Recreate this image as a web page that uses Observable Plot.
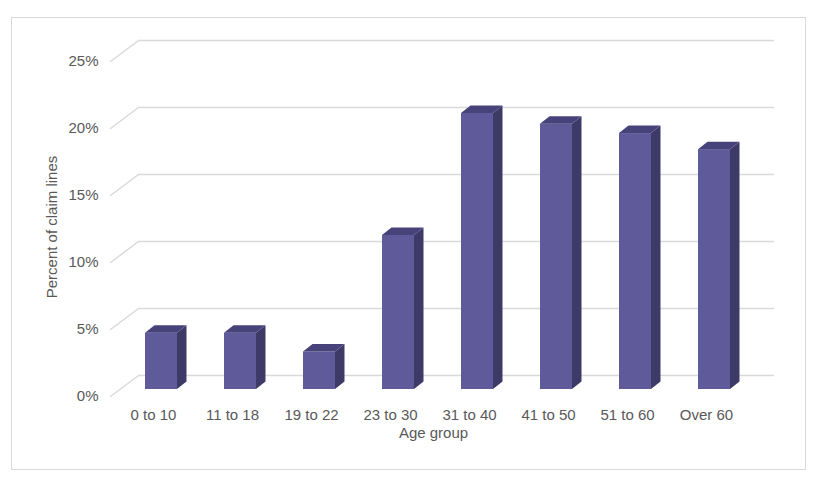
<!DOCTYPE html>
<html>
<head>
<meta charset="utf-8">
<script src="https://cdn.jsdelivr.net/npm/d3@7"></script>
<script src="https://cdn.jsdelivr.net/npm/@observablehq/plot@0.6"></script>
<style>
  body { margin: 0; background: #fff; }
  #wrap { position: relative; width: 818px; height: 477px; overflow: hidden; }
  #border { position: absolute; left: 11px; top: 17px; width: 793px; height: 451px; border: 1px solid #d9d9d9; box-sizing: content-box; }
  #chart { position: absolute; left: 0; top: 0; }
</style>
</head>
<body>
<div id="wrap"><div id="border"></div><div id="chart"></div></div>
<script>
const categories = ["0 to 10", "11 to 18", "19 to 22", "23 to 30", "31 to 40", "41 to 50", "51 to 60", "Over 60"];
const values = [4.2, 4.2, 2.8, 11.5, 20.6, 19.8, 19.1, 17.9];
const yTicks = [0, 5, 10, 15, 20, 25];
const xTitle = "Age group";
const yTitle = "Percent of claim lines";

const rows = categories.map((c, i) => ({category: c, value: values[i]}));

const frontColor = "#5f5b9a";
const sideColor = "#3e3a68";
const topColor = "#47437a";
const gridColor = "#d9d9d9";
const textColor = "#595959";
const depthX = 9.5, depthY = 7.5;

function extrude(index, scales, vals, dimensions, context, next) {
  const g = next(index, scales, vals, dimensions, context);
  const ns = "http://www.w3.org/2000/svg";
  const rects = Array.from(g.querySelectorAll("rect"));
  for (const r of rects) {
    const X = +r.getAttribute("x"), Y = +r.getAttribute("y");
    const W = +r.getAttribute("width"), H = +r.getAttribute("height");
    const side = document.createElementNS(ns, "polygon");
    side.setAttribute("points", [
      [X + W, Y + H], [X + W, Y], [X + W + depthX, Y - depthY], [X + W + depthX, Y + H - depthY]
    ].map(p => p.join(",")).join(" "));
    side.setAttribute("fill", sideColor);
    const top = document.createElementNS(ns, "polygon");
    top.setAttribute("points", [
      [X, Y], [X + depthX, Y - depthY], [X + W + depthX, Y - depthY], [X + W, Y]
    ].map(p => p.join(",")).join(" "));
    top.setAttribute("fill", topColor);
    g.appendChild(side);
    g.appendChild(top);
  }
  return g;
}

const wallLine = {
  draw(context, l) { context.moveTo(0, 0); context.lineTo(0, -l); }
};

const chart = Plot.plot({
  width: 818,
  height: 477,
  marginLeft: 120,
  marginRight: 64,
  marginTop: 54,
  marginBottom: 88,
  style: {
    fontFamily: "'Liberation Sans', Arial, sans-serif",
    fontSize: "15px",
    color: textColor,
    background: "transparent"
  },
  x: {domain: categories, paddingInner: 0.6, paddingOuter: 0.3, axis: null},
  y: {domain: [0, 25], axis: null},
  marks: [
    Plot.ruleY(yTicks, {dx: 18, dy: -14, insetRight: -2, stroke: gridColor, strokeWidth: 1.5}),
    Plot.vector(yTicks, {
      y: d => d, frameAnchor: "left", anchor: "start",
      length: 35, rotate: 53.13, dx: -10, dy: 7,
      shape: wallLine, stroke: gridColor, strokeWidth: 1.5
    }),
    Plot.barY(rows, {x: "category", y: "value", fill: frontColor, render: extrude}),
    Plot.axisY({ticks: yTicks, tickFormat: d => d + "%", tickSize: 0, tickPadding: 22, dy: 7, label: null}),
    Plot.axisX({tickSize: 0, tickPadding: 20, dx: -8, label: null}),
    Plot.text([xTitle], {frameAnchor: "bottom", dx: -4, dy: 44, lineAnchor: "middle", fill: textColor}),
    Plot.text([yTitle], {frameAnchor: "left", textAnchor: "middle", lineAnchor: "middle", rotate: -90, dx: -68, dy: 5, fill: textColor})
  ]
});
document.getElementById("chart").appendChild(chart);
</script>
</body>
</html>
